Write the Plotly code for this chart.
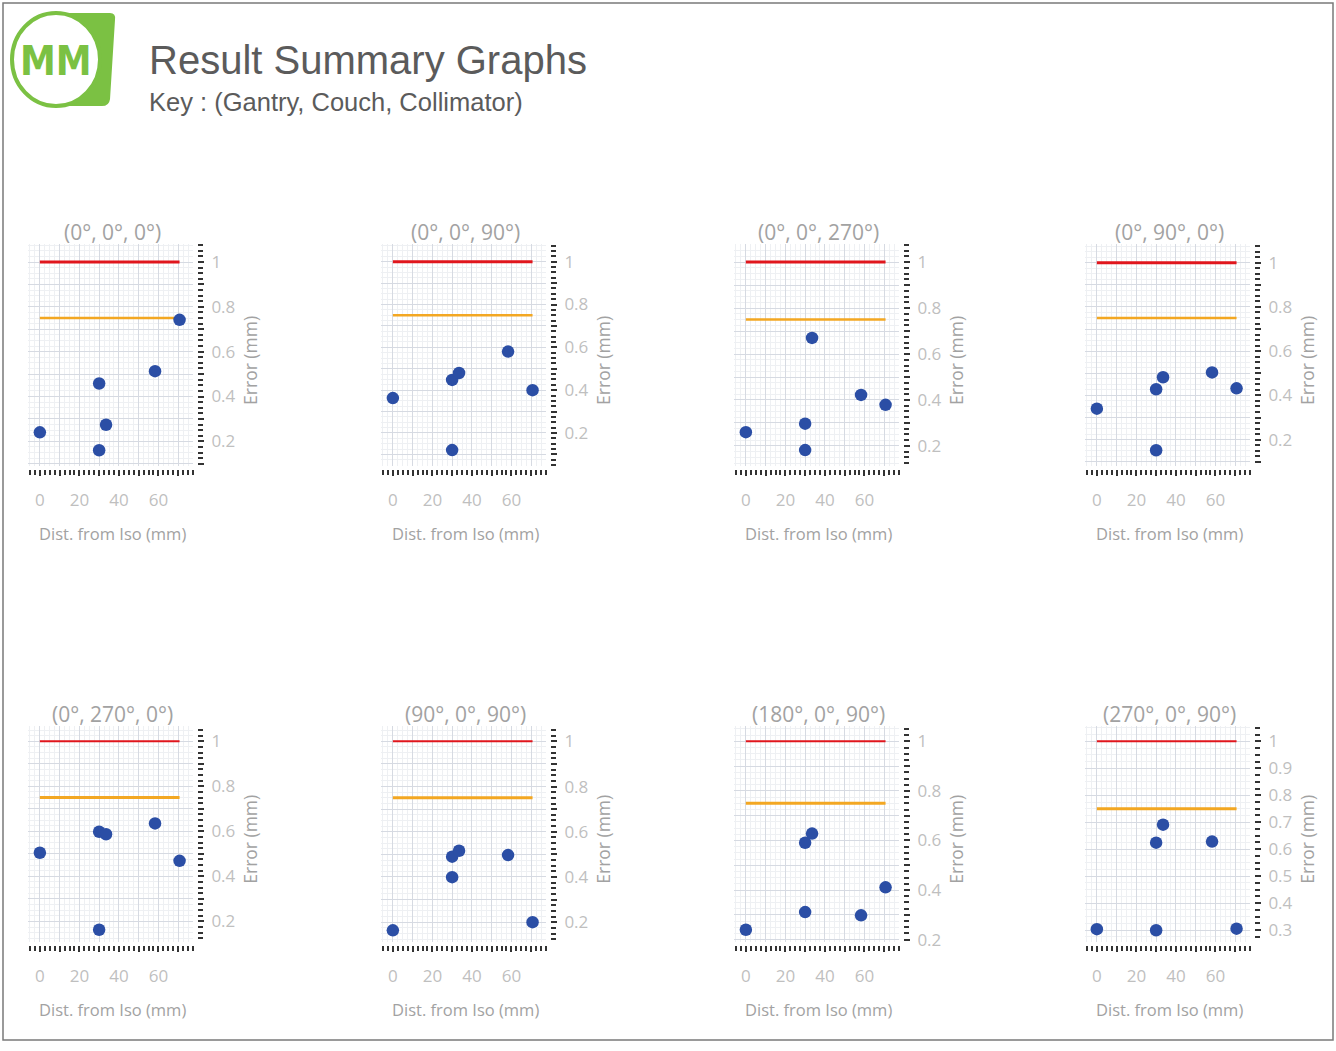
import plotly.graph_objects as go

# ---------------- data ----------------
panel_titles = ["(0°, 0°, 0°)", "(0°, 0°, 90°)", "(0°, 0°, 270°)", "(0°, 90°, 0°)",
                "(0°, 270°, 0°)", "(90°, 0°, 90°)", "(180°, 0°, 90°)", "(270°, 0°, 90°)"]

dist_mm = [0, 30, 30, 33.5, 58.3, 70.7]

err_0_0_0 = [0.24, 0.16, 0.458, 0.274, 0.513, 0.742]
err_0_0_90 = [0.363, 0.12, 0.448, 0.48, 0.58, 0.40]
err_0_0_270 = [0.26, 0.182, 0.297, 0.67, 0.422, 0.379]
err_0_90_0 = [0.34, 0.152, 0.428, 0.482, 0.504, 0.432]
err_0_270_0 = [0.505, 0.163, 0.598, 0.587, 0.635, 0.469]
err_90_0_90 = [0.164, 0.399, 0.49, 0.516, 0.497, 0.20]
err_180_0_90 = [0.24, 0.311, 0.591, 0.628, 0.298, 0.411]
err_270_0_90 = [0.303, 0.299, 0.624, 0.691, 0.628, 0.305]

errors = [err_0_0_0, err_0_0_90, err_0_0_270, err_0_90_0,
          err_0_270_0, err_90_0_90, err_180_0_90, err_270_0_90]

tolerance_mm = 1.0
action_mm = 0.75

x_tickvals = [0, 10, 20, 30, 40, 50, 60, 70]
x_ticktext = ["0", "", "20", "", "40", "", "60", ""]
y_tickvals = [0.1, 0.2, 0.3, 0.4, 0.5, 0.6, 0.7, 0.8, 0.9, 1.0]
y_ticktext_even = ["", "0.2", "", "0.4", "", "0.6", "", "0.8", "", "1"]
y_ticktext_all = ["0.1", "0.2", "0.3", "0.4", "0.5", "0.6", "0.7", "0.8", "0.9", "1"]

# ---------------- layout config ----------------
W, H = 1336, 1051
cols_px = [(28, 193), (381, 546), (734, 899), (1085, 1250)]
rows_px = [(246, 470), (732, 950)]
y_ranges = [[0.090, 1.081], [0.046, 1.083], [0.113, 1.079], [0.081, 1.085],
            [0.109, 1.069], [0.113, 1.069], [0.191, 1.063], [0.256, 1.058]]
x_range = [-6, 77.5]

RED = "#e0161d"
ORANGE = "#f3a722"
BLUE = "#2b4ea5"
GREEN = "#7bc143"
TXT = "#a2a2a2"
TICK_TXT = "#bfbfbf"
FONT = "Open Sans"


def X(px):
    return px / W


def Y(py):
    return 1 - py / H


fig = go.Figure()
layout_axes = {}
annotations = []

for i, title in enumerate(panel_titles):
    r, c = divmod(i, 4)
    x0, x1 = cols_px[c]
    y0, y1 = rows_px[r]
    n = i + 1
    xa = f"x{n}" if n > 1 else "x"
    ya = f"y{n}" if n > 1 else "y"
    lw_red = 3 if r == 0 else 2
    lw_or = 2.5 if r == 0 else 3

    fig.add_trace(go.Scatter(x=[dist_mm[0], dist_mm[-1]], y=[tolerance_mm, tolerance_mm],
                             mode="lines", line=dict(color=RED, width=lw_red),
                             xaxis=xa, yaxis=ya, showlegend=False, hoverinfo="skip"))
    fig.add_trace(go.Scatter(x=[dist_mm[0], dist_mm[-1]], y=[action_mm, action_mm],
                             mode="lines", line=dict(color=ORANGE, width=lw_or),
                             xaxis=xa, yaxis=ya, showlegend=False, hoverinfo="skip"))
    fig.add_trace(go.Scatter(x=dist_mm, y=errors[i], mode="markers",
                             marker=dict(color=BLUE, size=12.5),
                             xaxis=xa, yaxis=ya, showlegend=False))

    xkey = f"xaxis{n}" if n > 1 else "xaxis"
    ykey = f"yaxis{n}" if n > 1 else "yaxis"
    layout_axes[xkey] = dict(
        domain=[X(x0), X(x1)], anchor="free", position=Y(y1 + 3),
        range=x_range, tickmode="array", tickvals=x_tickvals, ticktext=x_ticktext,
        ticks="outside", ticklen=6, tickwidth=2, tickcolor="#333",
        ticklabelstandoff=10,
        showgrid=True, gridcolor="#d6dae2", gridwidth=1,
        zeroline=False, showline=False,
        tickfont=dict(family=FONT, size=17, color=TICK_TXT),
        minor=dict(tickmode="linear", tick0=0, dtick=2.5, ticks="outside", ticklen=5,
                   tickwidth=2, tickcolor="#333", showgrid=True, gridcolor="#eef0f3"),
    )
    layout_axes[ykey] = dict(
        domain=[Y(y1), Y(y0)], anchor="free", side="right", position=X(x1 + 4),
        range=y_ranges[i], tickmode="array", tickvals=y_tickvals,
        ticktext=(y_ticktext_all if i == 7 else y_ticktext_even),
        ticks="outside", ticklen=6, tickwidth=2, tickcolor="#333",
        ticklabelstandoff=4,
        showgrid=True, gridcolor="#d6dae2", gridwidth=1,
        zeroline=False, showline=False,
        tickfont=dict(family=FONT, size=17, color=TICK_TXT),
        minor=dict(tickmode="linear", tick0=0, dtick=0.025, ticks="outside", ticklen=5,
                   tickwidth=2, tickcolor="#333", showgrid=True, gridcolor="#eef0f3"),
    )

    cx = (x0 + x1) / 2
    annotations.append(dict(text=title, x=X(cx + 2), y=Y(y0 - 12), xref="paper", yref="paper",
                            showarrow=False, xanchor="center", yanchor="middle",
                            font=dict(family=FONT, size=21, color=TXT)))
    annotations.append(dict(text="Dist. from Iso (mm)", x=X(cx + 2), y=Y(y1 + 68),
                            xref="paper", yref="paper", showarrow=False,
                            xanchor="center", yanchor="middle",
                            font=dict(family=FONT, size=16.5, color=TXT)))
    annotations.append(dict(text="Error (mm)", x=X(x1 + 57), y=Y((y0 + y1) / 2 + 6),
                            xref="paper", yref="paper", showarrow=False, textangle=-90,
                            xanchor="center", yanchor="middle",
                            font=dict(family=FONT, size=17.5, color=TXT)))

# header texts
annotations.append(dict(text="Result Summary Graphs", x=X(147), y=Y(61), xref="paper",
                        yref="paper", showarrow=False, xanchor="left", yanchor="middle",
                        font=dict(family="Liberation Sans", size=40, color="#5b5b5b")))
annotations.append(dict(text="Key : (Gantry, Couch, Collimator)", x=X(147), y=Y(103),
                        xref="paper", yref="paper", showarrow=False, xanchor="left",
                        yanchor="middle",
                        font=dict(family="Liberation Sans", size=25.5, color="#5b5b5b")))
annotations.append(dict(text="<b>MM</b>", x=X(56), y=Y(62), xref="paper", yref="paper",
                        showarrow=False, xanchor="center", yanchor="middle",
                        font=dict(family="Liberation Sans Narrow, DejaVu Sans Condensed, Liberation Sans",
                                  size=40, color=GREEN)))

logo_path = (f"M {X(56)},{Y(13)} L {X(110)},{Y(13)} Q {X(116)},{Y(13)} {X(115)},{Y(20)} "
             f"L {X(110)},{Y(100)} Q {X(109)},{Y(107)} {X(102)},{Y(107)} L {X(56)},{Y(107)} Z")
shapes = [
    dict(type="rect", xref="paper", yref="paper", x0=X(3), x1=X(1333), y0=Y(1049), y1=Y(3),
         line=dict(color="#7a7a7a", width=1.5), fillcolor="rgba(0,0,0,0)", layer="below"),
    dict(type="path", xref="paper", yref="paper", path=logo_path, fillcolor=GREEN,
         line=dict(width=0)),
    dict(type="circle", xref="paper", yref="paper", x0=X(12), x1=X(100), y0=Y(107), y1=Y(13),
         fillcolor="white", line=dict(color=GREEN, width=4)),
]

fig.update_layout(
    width=W, height=H, margin=dict(l=0, r=0, t=0, b=0),
    paper_bgcolor="white", plot_bgcolor="white",
    annotations=annotations, shapes=shapes, showlegend=False,
    **layout_axes,
)

fig.write_html("out.html", config={"displayModeBar": False})
